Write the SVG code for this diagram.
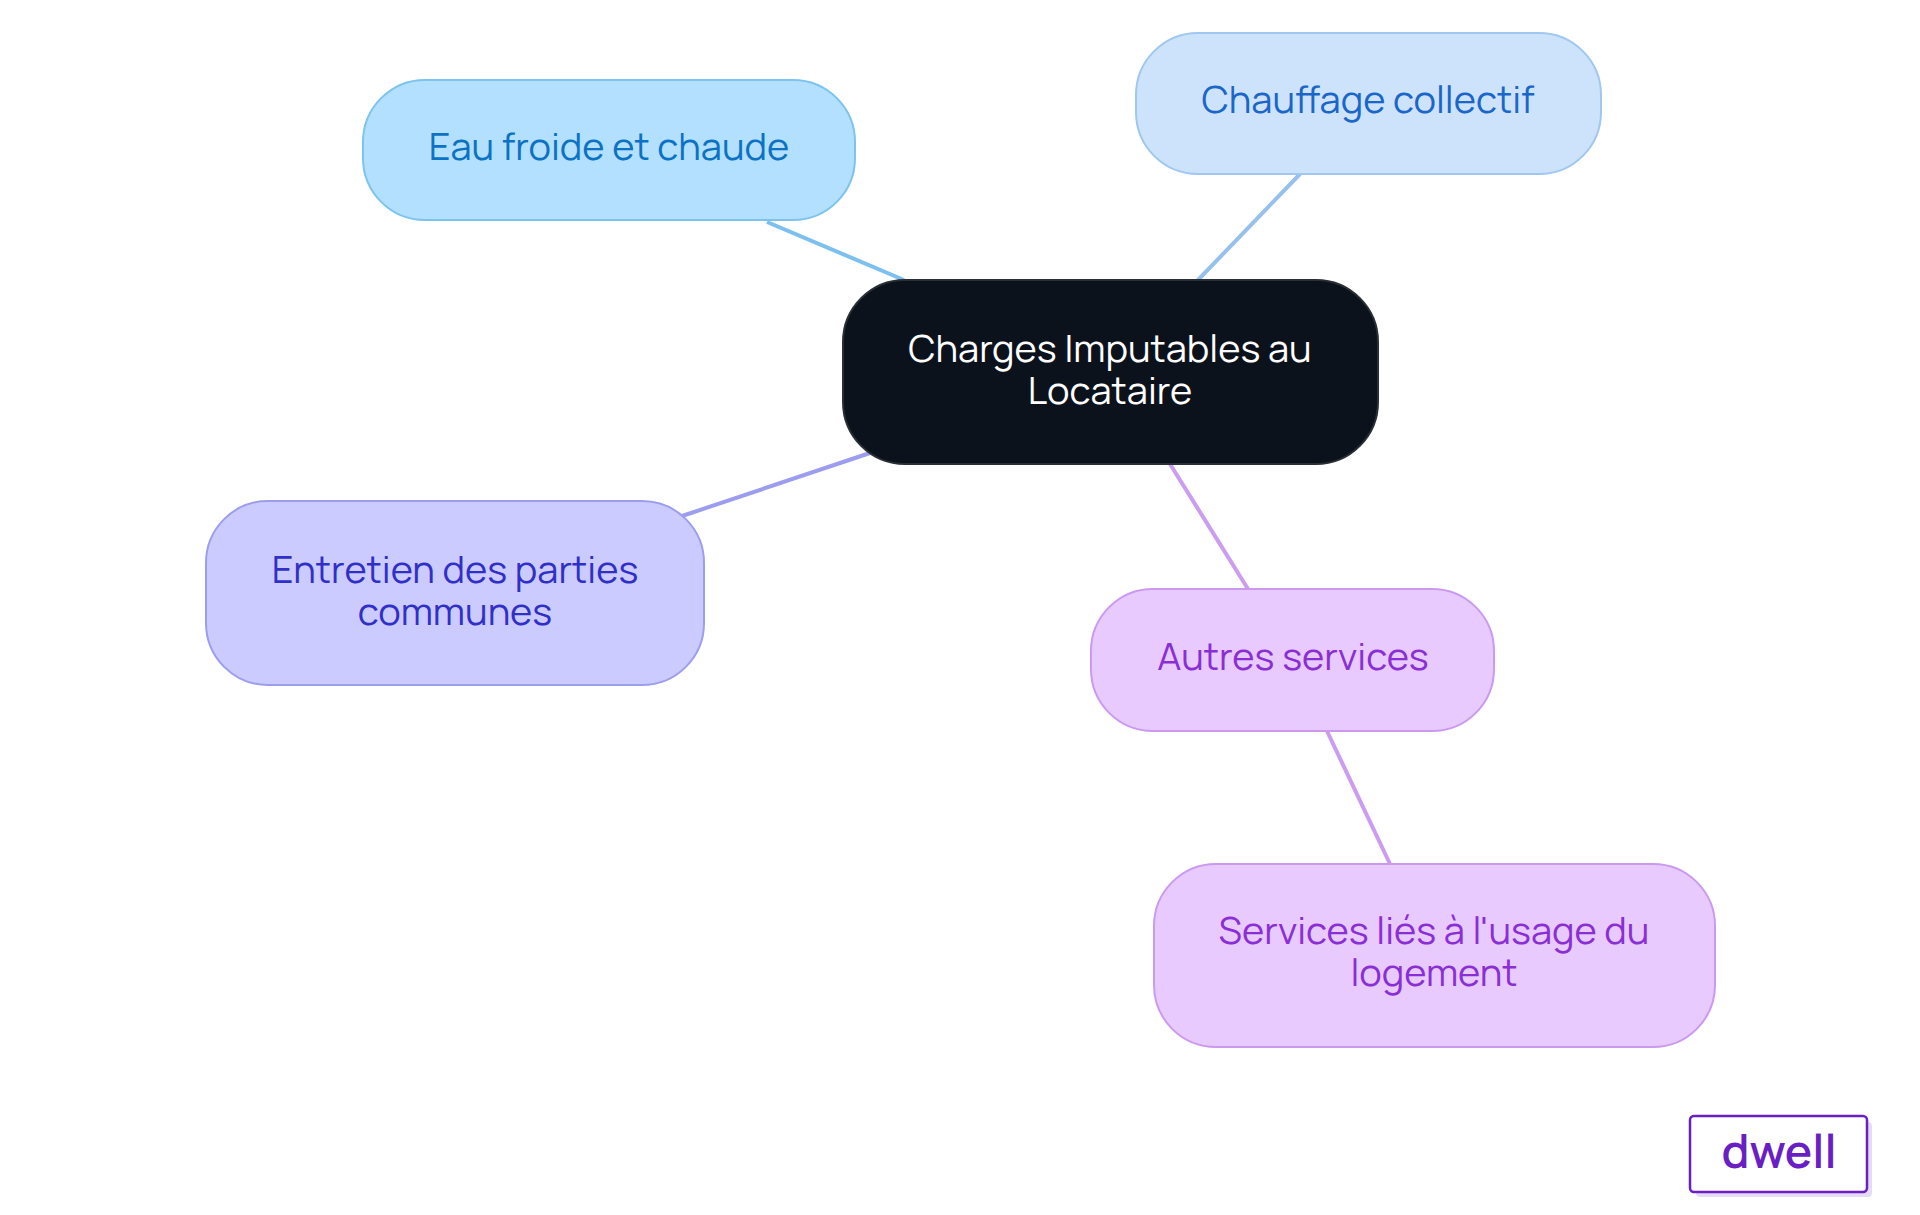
<svg xmlns="http://www.w3.org/2000/svg" width="1920" height="1215" viewBox="0 0 1920 1215">
<style>
text{font-family:Manrope,Inter,"Liberation Sans",sans-serif;font-size:38px;text-anchor:middle}
.e{fill:none;stroke-width:4}
</style>
<rect width="1920" height="1215" fill="#fff"/>
<g id="connectors">
<line class="e" x1="767" y1="222" x2="904" y2="280" stroke="#7cc0f0"/>
<line class="e" x1="1300" y1="174" x2="1198" y2="280" stroke="#98c0ec"/>
<line class="e" x1="682" y1="516" x2="870" y2="453" stroke="#9d9df0"/>
<line class="e" x1="1170" y1="464" x2="1248" y2="589" stroke="#cc9cf0"/>
<line class="e" x1="1327" y1="731" x2="1390" y2="864" stroke="#cc9cf0"/>
</g>
<g id="central">
<rect x="843" y="280" width="535" height="184" rx="62" fill="#0c121b" stroke="#2a2f36" stroke-width="2"/>
<text x="1110" y="362" fill="#fff">Charges Imputables au</text>
<text x="1110" y="404" fill="#fff">Locataire</text>
</g>
<g id="eau">
<rect x="363" y="80" width="492" height="140" rx="62" fill="#b3e0ff" stroke="#7cc3f0" stroke-width="2"/>
<text x="609" y="160" fill="#0b72c4">Eau froide et chaude</text>
</g>
<g id="chauffage">
<rect x="1136" y="33" width="465" height="141" rx="62" fill="#cde3fb" stroke="#9fc7f0" stroke-width="2"/>
<text x="1368" y="113" fill="#1a66c9">Chauffage collectif</text>
</g>
<g id="entretien">
<rect x="206" y="501" width="498" height="184" rx="62" fill="#cbcbff" stroke="#9d9df0" stroke-width="2"/>
<text x="455" y="583" fill="#3030c8">Entretien des parties</text>
<text x="455" y="625" fill="#3030c8">communes</text>
</g>
<g id="autres">
<rect x="1091" y="589" width="403" height="142" rx="62" fill="#e8caff" stroke="#cb9af0" stroke-width="2"/>
<text x="1293" y="670" fill="#8a2fd6">Autres services</text>
</g>
<g id="services">
<rect x="1154" y="864" width="561" height="183" rx="62" fill="#e8caff" stroke="#cb9af0" stroke-width="2"/>
<text x="1434" y="944" fill="#8a2fd6">Services liés à l'usage du</text>
<text x="1434" y="986" fill="#8a2fd6">logement</text>
</g>
<g id="logo">
<rect x="1696" y="1122" width="176" height="75" rx="4" fill="#e6dbf7"/>
<rect x="1690" y="1116" width="177" height="76" rx="4" fill="#fff" stroke="#6a1fc4" stroke-width="2.5"/>
<text x="1779" y="1168" style="font-size:46px;font-weight:600" fill="#6a1fc4">dwell</text>
</g>
</svg>
